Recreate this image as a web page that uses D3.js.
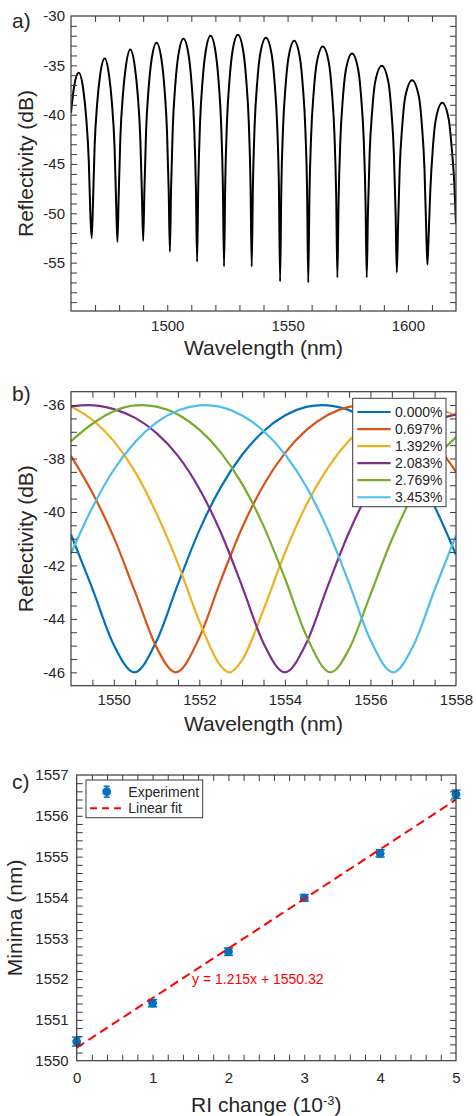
<!DOCTYPE html>
<html>
<head>
<meta charset="utf-8">
<script src="https://cdn.jsdelivr.net/npm/d3@7"></script>
<style>
  html, body { margin: 0; padding: 0; background: #fff; }
  svg { display: block; }
</style>
</head>
<body>
<svg id="fig" width="476" height="1116"></svg>
<script>
// ---------- (a) broadband reflection spectrum: [wavelength nm, reflectivity dB] ----------
const spectrumA = [
  [1460,-39.8],[1461.2,-37.3],[1463.2,-35.75],[1465.1,-37.45],[1466.3,-40.25],[1467.4,-44.75],[1468.1,-50.5],
  [1468.6,-52.5],
  [1469.1,-49.3],[1469.8,-43.3],[1470.9,-38.8],[1472.1,-36.0],[1474.0,-34.3],[1475.8,-36.0],[1477.0,-38.8],[1478.1,-43.3],[1478.8,-49.3],
  [1479.3,-52.9],
  [1479.8,-48.4],[1480.5,-42.4],[1481.6,-37.9],[1482.8,-35.1],[1484.65,-33.4],[1486.5,-35.1],[1487.7,-37.9],[1488.8,-42.4],[1489.5,-48.4],
  [1490.0,-52.8],
  [1490.5,-47.7],[1491.2,-41.7],[1492.3,-37.2],[1493.5,-34.4],[1495.55,-32.7],[1497.6,-34.4],[1498.8,-37.2],[1499.9,-41.7],[1500.6,-47.7],
  [1501.1,-53.9],
  [1501.6,-47.3],[1502.3,-41.3],[1503.4,-36.8],[1504.6,-34.0],[1506.75,-32.3],[1508.9,-34.0],[1510.1,-36.8],[1511.2,-41.3],[1511.9,-47.3],
  [1512.4,-54.9],
  [1512.9,-47.0],[1513.6,-41.0],[1514.7,-36.5],[1515.9,-33.7],[1518.0,-32.0],[1520.1,-33.7],[1521.3,-36.5],[1522.4,-41.0],[1523.1,-47.0],
  [1523.6,-55.4],
  [1524.1,-46.9],[1524.8,-40.9],[1525.9,-36.4],[1527.1,-33.6],[1529.35,-31.9],[1531.6,-33.6],[1532.8,-36.4],[1533.9,-40.9],[1534.6,-46.9],
  [1535.1,-55.4],
  [1535.6,-47.2],[1536.3,-41.2],[1537.4,-36.7],[1538.6,-33.9],[1541.0,-32.2],[1543.4,-33.9],[1544.6,-36.7],[1545.7,-41.2],[1546.4,-47.2],
  [1546.9,-56.9],
  [1547.4,-47.5],[1548.1,-41.5],[1549.2,-37.0],[1550.4,-34.2],[1552.75,-32.5],[1555.1,-34.2],[1556.3,-37.0],[1557.4,-41.5],[1558.1,-47.5],
  [1558.6,-57.0],
  [1559.1,-48.1],[1559.8,-42.1],[1560.9,-37.6],[1562.1,-34.8],[1564.65,-33.1],[1567.2,-34.8],[1568.4,-37.6],[1569.5,-42.1],[1570.2,-48.1],
  [1570.7,-56.5],
  [1571.2,-48.8],[1571.9,-42.8],[1573.0,-38.3],[1574.2,-35.5],[1576.8,-33.8],[1579.4,-35.5],[1580.6,-38.3],[1581.7,-42.8],[1582.4,-48.8],
  [1582.9,-56.5],
  [1583.4,-50.0],[1584.1,-44.0],[1585.2,-39.5],[1586.4,-36.7],[1589.15,-35.05],[1591.9,-36.7],[1593.1,-39.5],[1594.2,-44.0],[1594.9,-50.0],
  [1595.4,-56.0],
  [1595.9,-51.5],[1596.6,-45.5],[1597.7,-41.0],[1598.9,-38.2],[1601.75,-36.5],[1604.6,-38.2],[1605.8,-41.0],[1606.9,-45.5],[1607.6,-51.5],
  [1608.1,-55.2],
  [1608.6,-52.5],[1609.3,-47.8],[1610.4,-43.3],[1611.6,-40.5],[1614.3,-38.8],[1617.0,-40.5],[1618.2,-43.3],[1619.3,-47.0],[1620,-51.0]
];
const wavelengthTicksA = [1500, 1550, 1600];
const reflectivityTicksA = [-55, -50, -45, -40, -35, -30];

// ---------- (b) simulated fringe shift for increasing strain ----------
const strainLabels = ["0.000%", "0.697%", "1.392%", "2.083%", "2.769%", "3.453%"];
const fringe0000 = [[1549.0,-40.84],[1549.5,-42.87],[1550.0,-44.97],[1550.48,-46.00],[1551.0,-44.83],[1551.5,-42.70],[1552.0,-40.69],[1552.5,-39.08],[1553.0,-37.86],[1553.5,-36.98],[1554.0,-36.39],[1554.5,-36.07],[1554.88,-36.00],[1555.0,-36.01],[1555.5,-36.19],[1556.0,-36.64],[1556.5,-37.36],[1557.0,-38.40],[1557.5,-39.80],[1558.0,-41.60]];
const fringe0697 = [[1549.0,-37.90],[1549.5,-39.28],[1550.0,-40.95],[1550.5,-43.00],[1551.0,-45.07],[1551.45,-46.00],[1552.0,-44.70],[1552.5,-42.57],[1553.0,-40.59],[1553.5,-39.00],[1554.0,-37.80],[1554.5,-36.94],[1555.0,-36.37],[1555.5,-36.07],[1555.85,-36.00],[1556.0,-36.01],[1556.5,-36.21],[1557.0,-36.67],[1557.5,-37.41],[1558.0,-38.50]];
const fringe1392 = [[1549.0,-36.05],[1549.5,-36.55],[1550.0,-37.35],[1550.5,-38.50],[1551.0,-40.06],[1551.5,-41.93],[1552.0,-44.09],[1552.5,-45.76],[1552.70,-46.00],[1553.0,-45.54],[1553.5,-43.66],[1554.0,-41.53],[1554.5,-39.74],[1555.0,-38.36],[1555.5,-37.33],[1556.0,-36.62],[1556.5,-36.18],[1557.0,-36.01],[1557.10,-36.00],[1557.5,-36.08],[1558.0,-36.41]];
const fringe2083 = [[1549.0,-36.05],[1549.4,-36.00],[1550.0,-36.15],[1550.5,-36.48],[1551.0,-37.05],[1551.5,-37.90],[1552.0,-39.13],[1552.5,-40.76],[1553.0,-42.78],[1553.5,-44.91],[1554.0,-46.00],[1554.5,-44.91],[1555.0,-42.78],[1555.5,-40.76],[1556.0,-39.13],[1556.5,-37.95],[1557.0,-37.10],[1557.5,-36.60],[1558.0,-36.35]];
const fringe2769 = [[1549.0,-37.35],[1549.5,-36.70],[1550.0,-36.23],[1550.5,-36.01],[1550.67,-36.00],[1551.0,-36.06],[1551.5,-36.35],[1552.0,-36.92],[1552.5,-37.77],[1553.0,-38.95],[1553.5,-40.52],[1554.0,-42.48],[1554.5,-44.62],[1555.07,-46.00],[1555.5,-45.13],[1556.0,-43.09],[1556.5,-41.03],[1557.0,-39.34],[1557.5,-38.05],[1558.0,-37.20]];
const fringe3453 = [[1549.0,-41.55],[1549.5,-39.83],[1550.0,-38.42],[1550.5,-37.38],[1551.0,-36.65],[1551.5,-36.20],[1552.0,-36.01],[1552.13,-36.00],[1552.5,-36.07],[1553.0,-36.39],[1553.5,-36.97],[1554.0,-37.84],[1554.5,-39.05],[1555.0,-40.66],[1555.5,-42.66],[1556.0,-44.79],[1556.53,-46.00],[1557.0,-45.01],[1557.5,-42.91],[1558.0,-40.88]];
const fringeSeries = [fringe0000, fringe0697, fringe1392, fringe2083, fringe2769, fringe3453];
const fringeColors = ["#0072BD", "#D95319", "#EDB120", "#7E2F8E", "#77AC30", "#4DBEEE"];
const wavelengthTicksB = [1550, 1552, 1554, 1556, 1558];
const reflectivityTicksB = [-46, -44, -42, -40, -38, -36];

// ---------- (c) fringe minimum versus refractive-index change ----------
const riChange = [0, 1, 2, 3, 4, 5];
const minimaNm = [1550.47, 1551.41, 1552.67, 1553.99, 1555.08, 1556.53];
const minimaErr = [0.11, 0.09, 0.09, 0.08, 0.09, 0.1];
const fitSlope = 1.215;
const fitIntercept = 1550.32;
const riTicks = [0, 1, 2, 3, 4, 5];
const minimaTicks = [1550, 1551, 1552, 1553, 1554, 1555, 1556, 1557];

// ---------- shared styling ----------
const FONT = '"Liberation Sans", Arial, Helvetica, sans-serif';
const AXIS_COLOR = "#3a3a3a";
const TEXT_COLOR = "#262626";
const svg = d3.select("#fig").style("font-family", FONT);

function ticksBetween(domain, step) {
  const lo = Math.min(domain[0], domain[1]), hi = Math.max(domain[0], domain[1]);
  return d3.range(Math.ceil(lo / step - 1e-9) * step, hi + 1e-9, step)
    .map(v => +v.toFixed(6))
    .filter(v => v > lo + 1e-6 && v < hi - 1e-6);
}

// Builds one boxed panel with inward ticks on all four sides (MATLAB-like).
function makePanel(cfg) {
  const g = svg.append("g");
  const x = d3.scaleLinear().domain(cfg.xDomain).range([cfg.left, cfg.right]);
  const y = d3.scaleLinear().domain(cfg.yDomain).range([cfg.bottom, cfg.top]);
  const clipId = "clip-" + cfg.id;
  svg.append("clipPath").attr("id", clipId).append("rect")
    .attr("x", cfg.left).attr("y", cfg.top)
    .attr("width", cfg.right - cfg.left).attr("height", cfg.bottom - cfg.top);
  const plot = g.append("g").attr("clip-path", `url(#${clipId})`);
  return { g, plot, x, y, cfg };
}

function finishPanel(p) {
  const { g, x, y, cfg } = p;
  const tick = 6;
  const xMinor = ticksBetween(cfg.xDomain, cfg.xMinorStep);
  const yMinor = ticksBetween(cfg.yDomain, cfg.yMinorStep);
  [
    [d3.axisBottom(x).tickValues(xMinor), `translate(0,${cfg.bottom})`],
    [d3.axisTop(x).tickValues(xMinor), `translate(0,${cfg.top})`],
    [d3.axisLeft(y).tickValues(yMinor), `translate(${cfg.left},0)`],
    [d3.axisRight(y).tickValues(yMinor), `translate(${cfg.right},0)`]
  ].forEach(([axis, tr]) => {
    const a = g.append("g").attr("transform", tr).call(axis.tickSize(-tick).tickFormat(""));
    a.select(".domain").remove();
    a.selectAll(".tick line").attr("stroke", AXIS_COLOR).attr("stroke-width", 1);
  });

  const fmt = d => String(d);
  const xl = g.append("g").attr("transform", `translate(0,${cfg.bottom})`)
    .call(d3.axisBottom(x).tickValues(cfg.xLabels).tickSize(0).tickPadding(cfg.xPad).tickFormat(fmt));
  const yl = g.append("g").attr("transform", `translate(${cfg.left},0)`)
    .call(d3.axisLeft(y).tickValues(cfg.yLabels).tickSize(0).tickPadding(cfg.yPad).tickFormat(fmt));
  [xl, yl].forEach(a => {
    a.select(".domain").remove();
    a.attr("font-family", FONT).attr("font-size", 15);
    a.selectAll("text").attr("fill", TEXT_COLOR);
  });

  g.append("rect")
    .attr("x", cfg.left).attr("y", cfg.top)
    .attr("width", cfg.right - cfg.left).attr("height", cfg.bottom - cfg.top)
    .attr("fill", "none").attr("stroke", AXIS_COLOR).attr("stroke-width", 1.2);

  // axis titles and panel letter
  const xt = g.append("text")
    .attr("x", (cfg.left + cfg.right) / 2).attr("y", cfg.xTitleY)
    .attr("text-anchor", "middle").attr("font-size", 21).attr("fill", TEXT_COLOR);
  if (cfg.xTitleSup) {
    xt.append("tspan").text(cfg.xTitle);
    xt.append("tspan").attr("font-size", 13).attr("dy", -7).text(cfg.xTitleSup);
    xt.append("tspan").attr("dy", 7).text(cfg.xTitleTail);
  } else {
    xt.text(cfg.xTitle);
  }
  g.append("text")
    .attr("transform", `translate(${cfg.yTitleX},${(cfg.top + cfg.bottom) / 2}) rotate(-90)`)
    .attr("text-anchor", "middle").attr("font-size", 21).attr("fill", TEXT_COLOR)
    .text(cfg.yTitle);
  g.append("text")
    .attr("x", 12).attr("y", cfg.letterY)
    .attr("font-size", 21).attr("fill", TEXT_COLOR)
    .text(cfg.letter);
}

// ================= panel (a) =================
const pa = makePanel({
  id: "a", left: 71, right: 456, top: 16, bottom: 311,
  xDomain: [1460, 1620], yDomain: [-59.9, -30],
  xMinorStep: 10, yMinorStep: 1,
  xLabels: wavelengthTicksA, yLabels: reflectivityTicksA, xPad: 9, yPad: 6,
  xTitle: "Wavelength (nm)", xTitleY: 355, yTitle: "Reflectivity (dB)", yTitleX: 33,
  letter: "a)", letterY: 28
});
pa.plot.append("path")
  .datum(spectrumA)
  .attr("fill", "none").attr("stroke", "#000").attr("stroke-width", 2)
  .attr("stroke-linejoin", "round")
  .attr("d", d3.line().x(d => pa.x(d[0])).y(d => pa.y(d[1])).curve(d3.curveMonotoneX));
finishPanel(pa);

// ================= panel (b) =================
const pb = makePanel({
  id: "b", left: 71, right: 456, top: 391.7, bottom: 685.7,
  xDomain: [1549, 1558], yDomain: [-46.5, -35.5],
  xMinorStep: 0.5, yMinorStep: 0.5,
  xLabels: wavelengthTicksB, yLabels: reflectivityTicksB, xPad: 9, yPad: 6,
  xTitle: "Wavelength (nm)", xTitleY: 731, yTitle: "Reflectivity (dB)", yTitleX: 33,
  letter: "b)", letterY: 401
});
const lineB = d3.line().x(d => pb.x(d[0])).y(d => pb.y(d[1])).curve(d3.curveMonotoneX);
pb.plot.selectAll("path.fringe")
  .data(fringeSeries)
  .join("path")
  .attr("class", "fringe")
  .attr("fill", "none")
  .attr("stroke", (d, i) => fringeColors[i])
  .attr("stroke-width", 2.2)
  .attr("d", lineB);
finishPanel(pb);

// legend (b)
{
  const lg = pb.g.append("g");
  const lx = 352.7, ly = 398.3, lw = 93.3, rowH = 17.05, row0 = 13.7;
  lg.append("rect").attr("x", lx).attr("y", ly).attr("width", lw).attr("height", 108.4)
    .attr("fill", "#fff").attr("stroke", AXIS_COLOR).attr("stroke-width", 1);
  strainLabels.forEach((lab, i) => {
    const cy = ly + row0 + i * rowH;
    lg.append("line").attr("x1", lx + 4.6).attr("x2", lx + 38).attr("y1", cy).attr("y2", cy)
      .attr("stroke", fringeColors[i]).attr("stroke-width", 2.2);
    lg.append("text").attr("x", lx + 42.3).attr("y", cy + 5)
      .attr("font-size", 14).attr("fill", TEXT_COLOR).text(lab);
  });
}

// ================= panel (c) =================
const pc = makePanel({
  id: "c", left: 76.7, right: 456, top: 775, bottom: 1060.7,
  xDomain: [0, 5], yDomain: [1550, 1557],
  xMinorStep: 0.2, yMinorStep: 0.2,
  xLabels: riTicks, yLabels: minimaTicks, xPad: 12, yPad: 8,
  xTitle: "RI change (10", xTitleSup: "-3", xTitleTail: ")", xTitleY: 1112,
  yTitle: "Minima (nm)", yTitleX: 22,
  letter: "c)", letterY: 789
});
const BLUE = "#0072BD";
const pts = riChange.map((r, i) => ({ r, m: minimaNm[i], e: minimaErr[i] }));
const capHalf = 4.6;
const eb = pc.g.append("g");
eb.selectAll("line.stem").data(pts).join("line").attr("class", "stem")
  .attr("x1", d => pc.x(d.r)).attr("x2", d => pc.x(d.r))
  .attr("y1", d => pc.y(d.m - d.e)).attr("y2", d => pc.y(d.m + d.e))
  .attr("stroke", BLUE).attr("stroke-width", 1.5);
[-1, 1].forEach(s => {
  eb.selectAll("line.cap" + (s > 0 ? "u" : "d")).data(pts).join("line")
    .attr("class", "cap" + (s > 0 ? "u" : "d"))
    .attr("x1", d => pc.x(d.r) - capHalf).attr("x2", d => pc.x(d.r) + capHalf)
    .attr("y1", d => pc.y(d.m + s * d.e)).attr("y2", d => pc.y(d.m + s * d.e))
    .attr("stroke", BLUE).attr("stroke-width", 1.5);
});
eb.selectAll("circle").data(pts).join("circle")
  .attr("cx", d => pc.x(d.r)).attr("cy", d => pc.y(d.m)).attr("r", 4.4)
  .attr("fill", BLUE);

// linear fit
const fitX = d3.extent(riChange);
pc.g.append("line")
  .attr("x1", pc.x(fitX[0])).attr("y1", pc.y(fitSlope * fitX[0] + fitIntercept))
  .attr("x2", pc.x(fitX[1])).attr("y2", pc.y(fitSlope * fitX[1] + fitIntercept))
  .attr("stroke", "#FF0000").attr("stroke-width", 2).attr("stroke-dasharray", "9,5");
pc.g.append("text")
  .attr("x", pc.x(1.52)).attr("y", pc.y(1551.88))
  .attr("font-size", 14).attr("fill", "#FF0000")
  .text(`y = ${fitSlope}x + ${fitIntercept}`);
finishPanel(pc);

// legend (c)
{
  const lg = pc.g.append("g");
  const lx = 86, ly = 780, lw = 116.7, lh = 37.7;
  lg.append("rect").attr("x", lx).attr("y", ly).attr("width", lw).attr("height", lh)
    .attr("fill", "#fff").attr("stroke", AXIS_COLOR).attr("stroke-width", 1);
  const r1 = ly + 11.7, r2 = ly + 28.3, mx = lx + 20.7;
  lg.append("line").attr("x1", mx).attr("x2", mx).attr("y1", r1 - 5.5).attr("y2", r1 + 5.5)
    .attr("stroke", BLUE).attr("stroke-width", 1.5);
  [-5.5, 5.5].forEach(o => lg.append("line").attr("x1", mx - 3).attr("x2", mx + 3)
    .attr("y1", r1 + o).attr("y2", r1 + o).attr("stroke", BLUE).attr("stroke-width", 1.5));
  lg.append("circle").attr("cx", mx).attr("cy", r1).attr("r", 4.4).attr("fill", BLUE);
  lg.append("text").attr("x", lx + 42.3).attr("y", r1 + 5).attr("font-size", 14)
    .attr("fill", TEXT_COLOR).text("Experiment");
  lg.append("line").attr("x1", lx + 4).attr("x2", lx + 37).attr("y1", r2).attr("y2", r2)
    .attr("stroke", "#FF0000").attr("stroke-width", 2).attr("stroke-dasharray", "7,5");
  lg.append("text").attr("x", lx + 42.3).attr("y", r2 + 5).attr("font-size", 14)
    .attr("fill", TEXT_COLOR).text("Linear fit");
}
</script>
</body>
</html>
